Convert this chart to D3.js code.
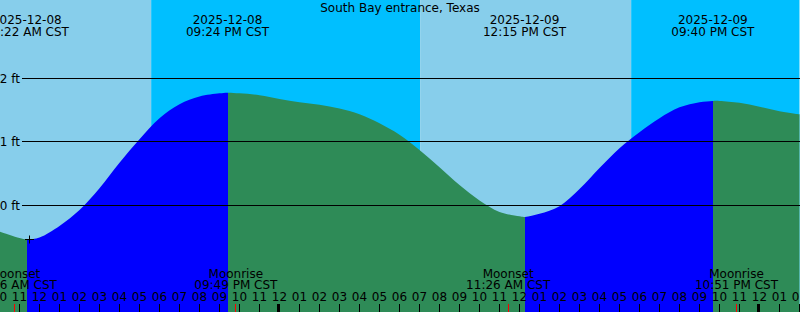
<!DOCTYPE html>
<html>
<head>
<meta charset="utf-8">
<script src="https://cdn.jsdelivr.net/npm/d3@7"></script>
<style>
  html, body { margin: 0; padding: 0; background: #fff; }
  svg { display: block; }
  text { font-family: "DejaVu Sans", sans-serif; font-size: 12px; fill: #000; }
</style>
</head>
<body>
<div id="chart"></div>
<script>
// station + time window (local CST, parsed as naive times)
const stationName = 'South Bay entrance, Texas';
const windowStart = '2025-12-08 10:00';
const windowEnd = '2025-12-10 02:00';

const hourlyLevels = [
  -0.41, -0.51, -0.50, -0.32, -0.07, 0.27, 0.67, 1.04, 1.37, 1.59,
  1.71, 1.76, 1.76, 1.73, 1.67, 1.62, 1.58, 1.52, 1.43, 1.29,
  1.11, 0.87, 0.60, 0.32, 0.08, -0.10, -0.17, -0.13, -0.01, 0.26,
  0.59, 0.90, 1.15, 1.37, 1.54, 1.62, 1.64, 1.61, 1.55, 1.48,
  1.43
];

// high / low tides
const tideTimes = ['2025-12-08 11:22', '2025-12-08 21:24', '2025-12-09 12:15', '2025-12-09 21:40'];
const tideLevels = [-0.53, 1.77, -0.18, 1.64];
const tideKinds = ['low', 'high', 'low', 'high'];

// sun: background switches between day and night
const sunTimes = ['2025-12-08 17:35', '2025-12-09 07:02', '2025-12-09 17:35'];
const sunKinds = ['set', 'rise', 'set'];

// moon events along the bottom
const moonTimes = ['2025-12-08 10:46', '2025-12-08 21:49', '2025-12-09 11:26', '2025-12-09 22:51'];
const moonNames = ['Moonset', 'Moonrise', 'Moonset', 'Moonrise'];

// level grid
const levelTicks = [0, 1, 2];

// the "+" mark on the curve
const markTime = '2025-12-08 11:31';
const markLevel = -0.53;

const width = 800, height = 312;
const colors = {
    day: '#87ceeb',
    night: '#00bfff',
    rising: '#0000ff',
    falling: '#2e8b57',
    moon: '#ff0000'
};

const parse = d3.utcParse('%Y-%m-%d %H:%M');
const fmtDate = d3.utcFormat('%Y-%m-%d');
const fmtTime = d3.utcFormat('%I:%M %p CST');
const fmtHour = d3.utcFormat('%I');

const t0 = parse(windowStart), t1 = parse(windowEnd);

const x = d3.scaleUtc().domain([t0, t1]).range([-0.5, 799.5]);
const y = d3.scaleLinear().domain([0, 2]).range([205.5, 78]);

// merge hourly samples with the extremes so the curve hits them
let samples = hourlyLevels.map((v, i) => ({ t: d3.utcHour.offset(t0, i), v: v }));
tideTimes.forEach((s, i) => samples.push({ t: parse(s), v: tideLevels[i] }));
samples.sort((a, b) => a.t - b.t);

const svg = d3.select('#chart').append('svg')
    .attr('width', width)
    .attr('height', height);

// background day / night bands
/////////////////////////////////
let edges = [t0].concat(sunTimes.map(parse), [t1]);
let isDay = sunKinds[0] === 'set';
for (let i = 0; i < edges.length - 1; i++) {
    svg.append('rect')
        .attr('x', x(edges[i]))
        .attr('y', 0)
        .attr('width', x(edges[i + 1]) - x(edges[i]))
        .attr('height', height)
        .attr('fill', isDay ? colors.day : colors.night);
    isDay = !isDay;
}

// tide area, coloured by rising / falling
/////////////////////////////////
const area = d3.area()
    .x(d => x(d.t))
    .y0(height)
    .y1(d => y(d.v))
    .curve(d3.curveCatmullRom.alpha(0.5));

let cuts = [t0].concat(tideTimes.map(parse), [t1]);
const defs = svg.append('defs');
for (let i = 0; i < cuts.length - 1; i++) {
    // segment ending in a high tide is rising
    let endKind = i < tideKinds.length ? tideKinds[i] : (tideKinds[i - 1] === 'high' ? 'low' : 'high');
    let inst_color = endKind === 'low' ? colors.falling : colors.rising;
    let a = Math.round(x(cuts[i])), b = Math.round(x(cuts[i + 1]));
    defs.append('clipPath')
        .attr('id', 'seg' + i)
        .append('rect')
        .attr('x', a).attr('y', 0)
        .attr('width', b - a).attr('height', height);
    svg.append('path')
        .datum(samples)
        .attr('d', area)
        .attr('fill', inst_color)
        .attr('clip-path', 'url(#seg' + i + ')');
}

// level grid lines + labels
/////////////////////////////////
levelTicks.forEach(function (v) {
    let yy = Math.floor(y(v)) + 0.5;
    svg.append('line')
        .attr('x1', 22).attr('x2', width)
        .attr('y1', yy).attr('y2', yy)
        .attr('stroke', '#000')
        .attr('stroke-width', 1);
    svg.append('text')
        .attr('x', 20)
        .attr('y', yy + 4.5)
        .attr('text-anchor', 'end')
        .text(v + ' ft');
});

// title
svg.append('text')
    .attr('x', width / 2)
    .attr('y', 12)
    .attr('text-anchor', 'middle')
    .text(stationName);

// tide event labels on top
tideTimes.forEach(function (s) {
    let t = parse(s);
    let g = svg.append('g').attr('text-anchor', 'middle');
    g.append('text').attr('x', x(t)).attr('y', 24).text(fmtDate(t));
    g.append('text').attr('x', x(t)).attr('y', 36).text(fmtTime(t));
});

// "+" mark
let mx = Math.floor(x(parse(markTime))) + 0.5, my = Math.floor(y(markLevel)) + 0.5;
svg.append('path')
    .attr('d', 'M' + (mx - 4.5) + ',' + my + 'H' + (mx + 4.5) + 'M' + mx + ',' + (my - 4) + 'V' + (my + 4))
    .attr('stroke', '#000')
    .attr('fill', 'none');

// hour ticks along the bottom
/////////////////////////////////
const hours = x.ticks(d3.utcHour.every(1));
hours.forEach(function (t) {
    let xx = x(t);
    if (t.getUTCHours() === 0) {
        svg.append('rect')
            .attr('x', Math.floor(xx) - 2).attr('y', 304)
            .attr('width', 3).attr('height', 8)
            .attr('fill', '#000');
    } else {
        svg.append('line')
            .attr('x1', Math.floor(xx) + 0.5).attr('x2', Math.floor(xx) + 0.5)
            .attr('y1', 304).attr('y2', height)
            .attr('stroke', '#000');
    }
    svg.append('text')
        .attr('x', xx)
        .attr('y', 301)
        .attr('text-anchor', 'middle')
        .text(fmtHour(t));
});

// moon events
moonTimes.forEach(function (s, i) {
    let t = parse(s);
    let xx = Math.floor(x(t)) + 0.5;
    svg.append('line')
        .attr('x1', xx).attr('x2', xx)
        .attr('y1', 304).attr('y2', height)
        .attr('stroke', colors.moon);
    svg.append('text').attr('x', x(t)).attr('y', 278)
        .attr('text-anchor', 'middle').text(moonNames[i]);
    svg.append('text').attr('x', x(t)).attr('y', 289)
        .attr('text-anchor', 'middle').text(fmtTime(t));
});
</script>
</body>
</html>
